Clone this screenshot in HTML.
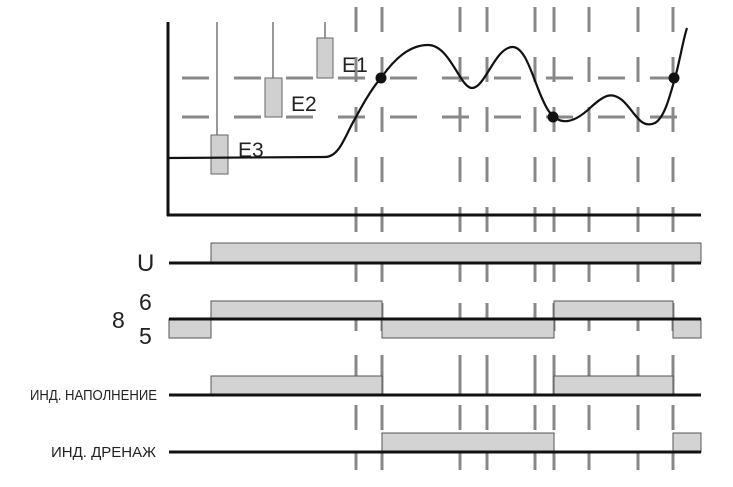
<!DOCTYPE html>
<html><head><meta charset="utf-8"><style>
html,body{margin:0;padding:0;background:#fff;}
svg{display:block;}
text{font-family:"Liberation Sans","DejaVu Sans",sans-serif;fill:#222;}
</style></head><body>
<svg width="733" height="487" viewBox="0 0 733 487" xmlns="http://www.w3.org/2000/svg">
<g stroke="#888" stroke-width="3">
<line x1="168" y1="78" x2="701" y2="78" stroke-dasharray="27 25" stroke-dashoffset="-14"/>
<line x1="168" y1="117" x2="701" y2="117" stroke-dasharray="27 25" stroke-dashoffset="-14"/>
</g>
<g stroke="#888" stroke-width="3">
<g stroke-dasharray="25 25">
<line x1="356" y1="7" x2="356" y2="232"/><line x1="382" y1="7" x2="382" y2="232"/>
<line x1="460" y1="7" x2="460" y2="232"/><line x1="487" y1="7" x2="487" y2="232"/>
<line x1="535" y1="7" x2="535" y2="232"/><line x1="554" y1="7" x2="554" y2="232"/>
<line x1="589" y1="7" x2="589" y2="232"/><line x1="638" y1="7" x2="638" y2="232"/>
<line x1="673" y1="7" x2="673" y2="232"/>
</g>
<g stroke-dasharray="19 21 28 24 40 10 25 23 17 30" stroke-dashoffset="0">
<line x1="356" y1="263" x2="356" y2="487"/><line x1="382" y1="263" x2="382" y2="487"/>
<line x1="460" y1="263" x2="460" y2="487"/><line x1="487" y1="263" x2="487" y2="487"/>
<line x1="535" y1="263" x2="535" y2="487"/><line x1="554" y1="263" x2="554" y2="487"/>
<line x1="589" y1="263" x2="589" y2="487"/><line x1="638" y1="263" x2="638" y2="487"/>
<line x1="673" y1="263" x2="673" y2="487"/>
</g>
</g>
<line x1="168" y1="22" x2="168" y2="216" stroke="#111" stroke-width="3"/>
<line x1="167" y1="215" x2="701" y2="215" stroke="#111" stroke-width="3"/>
<g stroke="#333" stroke-width="1">
<line x1="217" y1="22" x2="217" y2="135"/>
<line x1="273" y1="22" x2="273" y2="78"/>
<line x1="325" y1="22" x2="325" y2="38"/>
</g>
<g fill="#d0d0d0" stroke="#666" stroke-width="1">
<rect x="211" y="135" width="17" height="39"/>
<rect x="265" y="78" width="17" height="39"/>
<rect x="317" y="38" width="16" height="40"/>
</g>
<text x="342" y="72" font-size="21">E1</text>
<text x="291" y="111" font-size="21">E2</text>
<text x="238" y="157" font-size="21">E3</text>
<path d="M168,158 L325,157 C340,157 345,135 356,117 C364,102 372,88 381,78 C395,58 410,45 428,45 C450,45 460,88 472,88 C485,88 495,48 512,47 C528,46 535,90 548,110 C560,128 575,122 590,108 C605,94 612,92 622,100 C634,110 640,130 655,123 C665,117 670,95 675,78 C680,60 683,40 687,28" fill="none" stroke="#111" stroke-width="2.2"/>
<g fill="#111"><circle cx="381" cy="78" r="5.5"/><circle cx="553" cy="117" r="5.5"/><circle cx="674" cy="78" r="5.5"/></g>
<g fill="#d3d3d3" stroke="#555" stroke-width="1">
<rect x="211" y="243" width="490" height="19"/>
<rect x="169" y="319" width="42" height="19"/>
<rect x="211" y="301" width="171" height="18"/>
<rect x="382" y="319" width="172" height="19"/>
<rect x="554" y="301" width="119" height="18"/>
<rect x="673" y="319" width="28" height="19"/>
<rect x="211" y="376" width="171" height="19"/>
<rect x="554" y="376" width="119" height="19"/>
<rect x="382" y="433" width="172" height="19"/>
<rect x="673" y="433" width="28" height="19"/>
</g>
<g stroke="#111" stroke-width="3">
<line x1="169" y1="263" x2="701" y2="263"/>
<line x1="169" y1="319" x2="701" y2="319"/>
<line x1="169" y1="395" x2="701" y2="395"/>
<line x1="169" y1="452" x2="701" y2="452"/>
</g>
<text x="137" y="271" font-size="24">U</text>
<text x="139" y="310" font-size="23">6</text>
<text x="112" y="328" font-size="23">8</text>
<text x="139" y="344" font-size="23">5</text>
<text x="30" y="400" font-size="15" textLength="127" lengthAdjust="spacingAndGlyphs">ИНД. НАПОЛНЕНИЕ</text>
<text x="51" y="457" font-size="15" textLength="105" lengthAdjust="spacingAndGlyphs">ИНД.  ДРЕНАЖ</text>
</svg>
</body></html>
